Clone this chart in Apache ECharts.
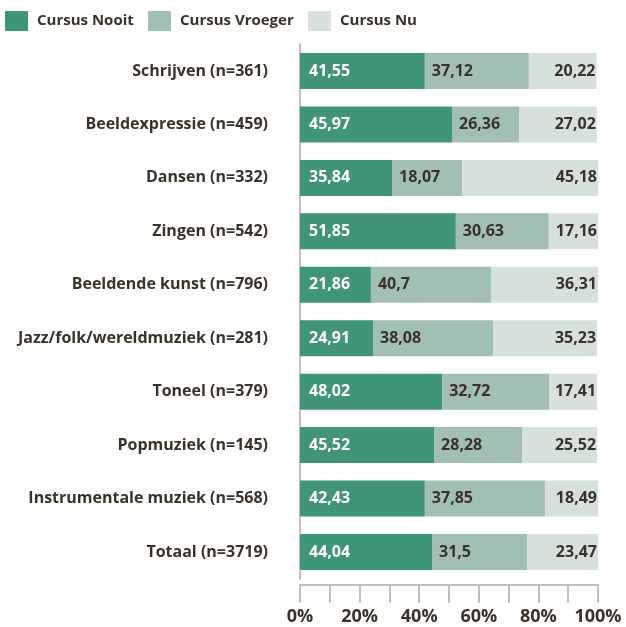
<!DOCTYPE html>
<html><head><meta charset="utf-8">
<script src="https://cdn.jsdelivr.net/npm/echarts@6/dist/echarts.min.js"></script>
<style>html,body{margin:0;padding:0;background:#fff}#c{width:626px;height:627px}</style>
</head><body><div id="c"></div>
<script>
const categories = ["Schrijven (n=361)","Beeldexpressie (n=459)","Dansen (n=332)","Zingen (n=542)","Beeldende kunst (n=796)","Jazz/folk/wereldmuziek (n=281)","Toneel (n=379)","Popmuziek (n=145)","Instrumentale muziek (n=568)","Totaal (n=3719)"];
// printed values (labels)
const nooitLabel = [41.55,45.97,35.84,51.85,21.86,24.91,48.02,45.52,42.43,44.04];
const vroegerLabel = [37.12,26.36,18.07,30.63,40.7,38.08,32.72,28.28,37.85,31.5];
const nuLabel = [20.22,27.02,45.18,17.16,36.31,35.23,17.41,25.52,18.49,23.47];
// bar lengths as drawn in the picture (%)
const nooitBar = [41.9,51.0,30.9,52.3,23.8,24.5,47.7,45.0,41.9,44.3];
const vroegerBar = [34.9,22.5,23.5,31.2,40.3,40.3,35.9,29.5,40.3,31.9];
const nuBar = [22.7,26.1,45.6,16.5,35.9,34.9,16.1,25.2,17.8,23.8];
const seriesNames = ["Cursus Nooit","Cursus Vroeger","Cursus Nu"];
const xTicks = [0,10,20,30,40,50,60,70,80,90,100];
const colors = ["#3f9479","#a1bfb2","#d6e1dc"];
const txt = "#3a3228";
const FONT = "'Open Sans', sans-serif";
const chart = echarts.init(document.getElementById('c'), null, {renderer:'canvas'});
function mk(i, bars, labels, pos, col, dist) {
  return {
    name: seriesNames[i], type: 'bar', stack: 't', barWidth: 36,
    data: bars.map((v, k) => ({value: v, lbl: labels[k]})),
    itemStyle: {color: colors[i]},
    label: {show: true, position: pos, formatter: p => String(p.data.lbl).replace('.', ','),
      color: col, fontFamily: FONT, fontWeight: 'bold', fontSize: 16, distance: dist}
  };
}
const legendLefts = [5, 148, 308];
chart.setOption({
  animation: false,
  textStyle: {fontFamily: FONT},
  legend: seriesNames.map((n, i) => ({
    left: legendLefts[i], top: 11, padding: 0, itemWidth: 23, itemHeight: 20,
    icon: 'rect',
    textStyle: {color: txt, fontWeight: 'bold', fontSize: 15, fontFamily: FONT, padding: [0,0,0,4]},
    data: [n]
  })),
  grid: {left: 300, top: 44.3, width: 298, height: 534.4, containLabel: false},
  xAxis: {
    type: 'value', min: xTicks[0], max: xTicks[xTicks.length-1], interval: 10, offset: 6,
    axisLine: {show: true, lineStyle: {color: '#c5beb6', width: 2}},
    axisTick: {show: true, length: 18, lineStyle: {color: '#c5beb6', width: 2}},
    splitLine: {show: false},
    axisLabel: {formatter: v => v % 20 === 0 ? v + '%' : '', color: txt, fontWeight: 'bold',
      fontSize: 18, fontFamily: FONT, margin: 23, showMaxLabel: true, showMinLabel: true}
  },
  yAxis: {
    type: 'category', data: categories, inverse: true,
    axisLine: {show: true, lineStyle: {color: '#c5beb6', width: 2}},
    axisTick: {show: false},
    axisLabel: {color: txt, fontWeight: 'bold', fontSize: 16, fontFamily: FONT, margin: 32}
  },
  series: [
    mk(0, nooitBar, nooitLabel, 'insideLeft', '#ffffff', 9),
    mk(1, vroegerBar, vroegerLabel, 'insideLeft', txt, 7),
    mk(2, nuBar, nuLabel, 'insideRight', txt, 1)
  ]
});
</script></body></html>
